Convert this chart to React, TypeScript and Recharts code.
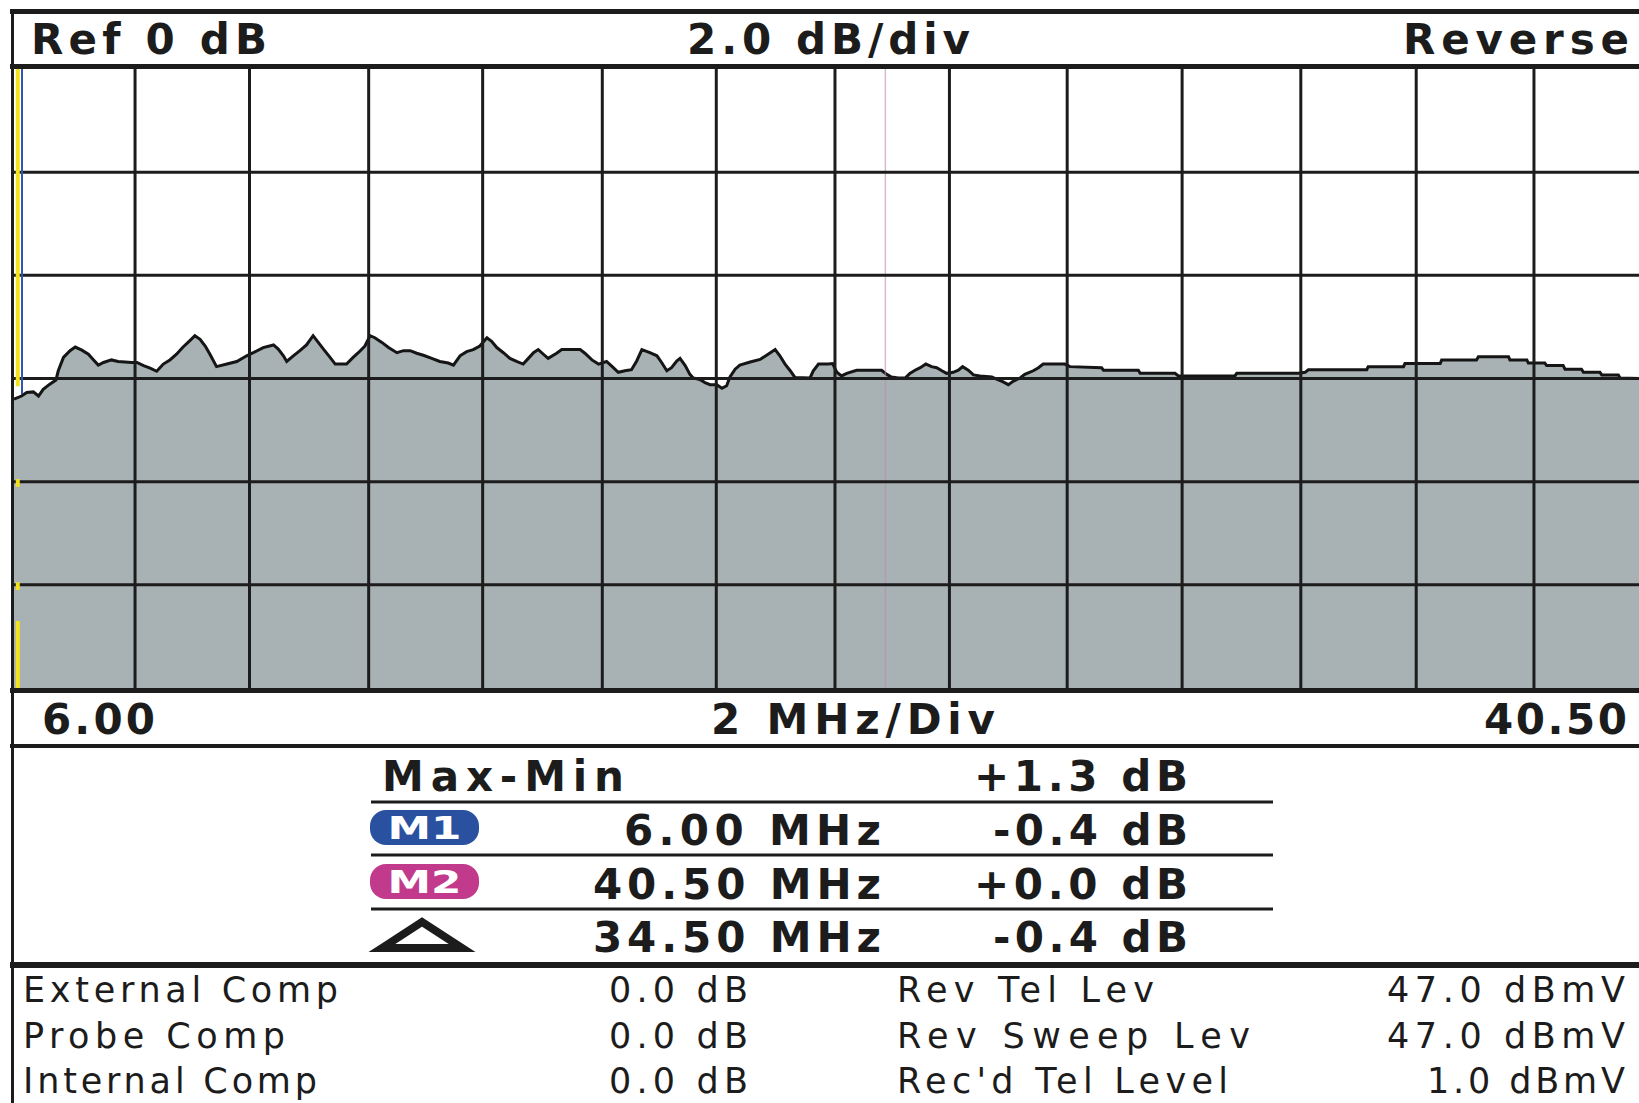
import React from 'react';
import { AreaChart, Area, XAxis, YAxis, ReferenceLine } from 'recharts';

// Sweep trace: [frequency MHz, level dB]
const trace: [number, number][] = [
  [6.00, -0.40], [6.16, -0.34], [6.27, -0.27], [6.41, -0.26], [6.52, -0.34], [6.62, -0.21], [6.76, -0.11],
  [6.89, -0.03], [6.94, 0.15], [7.05, 0.41], [7.19, 0.54], [7.30, 0.61], [7.44, 0.55], [7.58, 0.47],
  [7.68, 0.37], [7.79, 0.26], [7.90, 0.31], [8.07, 0.36], [8.21, 0.33], [8.50, 0.31], [8.61, 0.31],
  [8.75, 0.25], [8.89, 0.20], [9.03, 0.14], [9.17, 0.28], [9.31, 0.36], [9.45, 0.47], [9.59, 0.61],
  [9.74, 0.74], [9.84, 0.83], [9.95, 0.76], [10.06, 0.63], [10.16, 0.47], [10.30, 0.23], [10.52, 0.28],
  [10.73, 0.33], [10.94, 0.44], [11.08, 0.50], [11.29, 0.60], [11.51, 0.65], [11.61, 0.57], [11.72, 0.44],
  [11.79, 0.33], [11.93, 0.44], [12.07, 0.54], [12.21, 0.65], [12.35, 0.83], [12.46, 0.70], [12.57, 0.57],
  [12.71, 0.41], [12.82, 0.28], [13.06, 0.28], [13.20, 0.41], [13.31, 0.50], [13.45, 0.63], [13.56, 0.83],
  [13.66, 0.79], [13.81, 0.70], [13.95, 0.60], [14.13, 0.50], [14.27, 0.54], [14.41, 0.54], [14.55, 0.49],
  [14.69, 0.45], [14.87, 0.39], [15.04, 0.33], [15.22, 0.30], [15.33, 0.26], [15.47, 0.44], [15.61, 0.52],
  [15.75, 0.56], [15.89, 0.63], [16.04, 0.79], [16.14, 0.72], [16.25, 0.60], [16.39, 0.50], [16.53, 0.39],
  [16.67, 0.33], [16.81, 0.28], [16.92, 0.39], [17.03, 0.50], [17.13, 0.56], [17.24, 0.47], [17.34, 0.39],
  [17.52, 0.49], [17.63, 0.56], [18.02, 0.56], [18.12, 0.49], [18.27, 0.36], [18.41, 0.28], [18.58, 0.33],
  [18.69, 0.24], [18.83, 0.12], [18.97, 0.15], [19.11, 0.17], [19.22, 0.34], [19.33, 0.56], [19.50, 0.50],
  [19.65, 0.44], [19.75, 0.31], [19.86, 0.15], [19.96, 0.21], [20.07, 0.34], [20.14, 0.39], [20.25, 0.25],
  [20.35, 0.08], [20.42, 0.01], [20.56, -0.02], [20.67, -0.08], [20.78, -0.12], [20.92, -0.12], [21.03, -0.19],
  [21.13, -0.14], [21.20, 0.03], [21.31, 0.18], [21.41, 0.26], [21.63, 0.32], [21.84, 0.37], [22.01, 0.47],
  [22.16, 0.56], [22.26, 0.44], [22.37, 0.28], [22.48, 0.15], [22.58, 0.02], [22.90, 0.01], [22.97, 0.15],
  [23.08, 0.28], [23.29, 0.28], [23.38, 0.29], [23.47, 0.12], [23.57, 0.05], [23.68, 0.10], [23.89, 0.16],
  [24.42, 0.16], [24.53, 0.08], [24.63, 0.03], [24.77, 0.01], [24.92, 0.01], [25.02, 0.10], [25.13, 0.16],
  [25.24, 0.21], [25.36, 0.28], [25.48, 0.23], [25.59, 0.21], [25.70, 0.15], [25.80, 0.10], [25.94, 0.12],
  [26.05, 0.16], [26.14, 0.23], [26.26, 0.16], [26.37, 0.07], [26.51, 0.05], [26.76, 0.03], [26.86, -0.01],
  [26.99, -0.06], [27.11, -0.12], [27.22, -0.05], [27.36, 0.01], [27.46, 0.08], [27.64, 0.15], [27.75, 0.21],
  [27.85, 0.28], [28.31, 0.28], [28.42, 0.23], [29.09, 0.21], [29.13, 0.16], [29.87, 0.16], [29.91, 0.10],
  [30.65, 0.10], [30.72, 0.05], [31.92, 0.05], [31.96, 0.10], [33.27, 0.10], [33.41, 0.12], [33.48, 0.17],
  [34.72, 0.17], [34.75, 0.23], [35.50, 0.23], [35.53, 0.29], [36.28, 0.29], [36.31, 0.36], [37.05, 0.36],
  [37.09, 0.42], [37.73, 0.42], [37.76, 0.36], [38.12, 0.36], [38.15, 0.30], [38.50, 0.30], [38.54, 0.25],
  [38.89, 0.25], [38.93, 0.18], [39.28, 0.18], [39.32, 0.12], [39.67, 0.12], [39.71, 0.07], [40.06, 0.07],
  [40.10, 0.01], [40.50, 0.00],
];

const freqDomain: [number, number] = [6.0, 40.5];
const dbDomain: [number, number] = [-6, 6];
const gridFreqs = [8.57, 11.0, 13.53, 15.95, 18.49, 20.91, 23.43, 25.86, 28.36, 30.8, 33.32, 35.77, 38.27];
const gridDb = [-4, -2, 0, 2, 4];

const headerTexts = ['Ref 0 dB', '2.0 dB/div', 'Reverse'];
const axisTexts = ['6.00', '2 MHz/Div', '40.50'];
const maxMin = ['Max-Min', '+1.3 dB'];
const markerLabels = ['M1', 'M2'];
const markerFreqs = ['6.00 MHz', '40.50 MHz', '34.50 MHz'];
const markerLevels = ['-0.4 dB', '+0.0 dB', '-0.4 dB'];
const compNames = ['External Comp', 'Probe Comp', 'Internal Comp'];
const compValues = ['0.0 dB', '0.0 dB', '0.0 dB'];
const levelNames = ['Rev Tel Lev', 'Rev Sweep Lev', "Rec'd Tel Level"];
const levelValues = ['47.0 dBmV', '47.0 dBmV', '1.0 dBmV'];

const data = trace.map(([f, db]) => ({ f, db }));

const INK = '#1c1c1c';
const BOLD: React.CSSProperties = {
  fontFamily: '"DejaVu Sans", "Liberation Sans", sans-serif',
  fontWeight: 700,
  fontSize: 42,
  fill: INK,
};
const THIN: React.CSSProperties = {
  fontFamily: '"DejaVu Sans", "Liberation Sans", sans-serif',
  fontWeight: 400,
  fontSize: 35,
  fill: INK,
};

function T({ x, y, len, style, children }: { x: number; y: number; len: number; style: React.CSSProperties; children: string }) {
  return (
    <text x={x} y={y} textLength={len} lengthAdjust="spacing" style={style}>
      {children}
    </text>
  );
}

export default function App() {
  const rowsY = [845, 899, 952];
  const freqX = [624, 593, 593];
  const freqLen = [257, 288, 288];
  const lvlX = [993, 974, 993];
  const lvlLen = [195, 214, 195];
  const badgeColors = ['#2a51a0', '#c23a8c'];
  const compY = [1002, 1048, 1093];
  const compNameLen = [315, 262, 294];
  const levelNameLen = [257, 353, 331];
  const levelValX = [1387, 1387, 1427];
  const levelValLen = [238, 238, 198];

  return (
    <div style={{ position: 'absolute', left: 0, top: 0, width: 1639, height: 1103, background: '#fff', overflow: 'hidden' }}>
      <div style={{ position: 'absolute', left: 14, top: 69 }}>
        <AreaChart width={1625} height={619} data={data} margin={{ top: 0, right: 0, bottom: 0, left: 0 }}>
          <XAxis dataKey="f" type="number" domain={freqDomain} hide allowDataOverflow />
          <YAxis type="number" domain={dbDomain} hide allowDataOverflow />
          <Area
            type="linear"
            dataKey="db"
            stroke="#151515"
            strokeWidth={3}
            fill="#a8b1b3"
            fillOpacity={1}
            baseValue="dataMin"
            dot={false}
            activeDot={false}
            isAnimationActive={false}
          />
          <ReferenceLine x={24.5} stroke="#b690b0" strokeWidth={1.5} strokeOpacity={0.6} />
          {gridFreqs.map((f) => (
            <ReferenceLine key={'vx' + f} x={f} stroke={INK} strokeWidth={3} />
          ))}
          {gridDb.map((d) => (
            <ReferenceLine key={'hy' + d} y={d} stroke={INK} strokeWidth={3} />
          ))}
          <ReferenceLine segment={[{ x: 6.08, y: 6 }, { x: 6.08, y: -0.15 }]} stroke="#f2e21c" strokeWidth={4} />
          <ReferenceLine segment={[{ x: 6.08, y: -1.95 }, { x: 6.08, y: -2.1 }]} stroke="#f2e21c" strokeWidth={4} />
          <ReferenceLine segment={[{ x: 6.08, y: -3.95 }, { x: 6.08, y: -4.1 }]} stroke="#f2e21c" strokeWidth={4} />
          <ReferenceLine segment={[{ x: 6.08, y: -4.7 }, { x: 6.08, y: -6 }]} stroke="#f2e21c" strokeWidth={4} />
          <ReferenceLine segment={[{ x: 6.17, y: 6 }, { x: 6.17, y: -0.3 }]} stroke="#3256b0" strokeWidth={2} />
        </AreaChart>
      </div>

      <svg width={1639} height={1103} style={{ position: 'absolute', left: 0, top: 0, pointerEvents: 'none' }}>
        {/* frame lines */}
        <line x1={10} x2={1639} y1={11.5} y2={11.5} stroke={INK} strokeWidth={5} />
        <line x1={12.5} x2={12.5} y1={9} y2={1103} stroke={INK} strokeWidth={3} />
        <line x1={10} x2={1639} y1={66.5} y2={66.5} stroke={INK} strokeWidth={5} />
        <line x1={10} x2={1639} y1={690.5} y2={690.5} stroke={INK} strokeWidth={5} />
        <line x1={10} x2={1639} y1={746} y2={746} stroke={INK} strokeWidth={4} />
        <line x1={10} x2={1639} y1={965} y2={965} stroke={INK} strokeWidth={6} />

        {/* header */}
        <T x={31} y={54} len={236} style={BOLD}>{headerTexts[0]}</T>
        <T x={687} y={54} len={283} style={BOLD}>{headerTexts[1]}</T>
        <T x={1403} y={54} len={226} style={BOLD}>{headerTexts[2]}</T>

        {/* axis band */}
        <T x={42} y={734} len={113} style={BOLD}>{axisTexts[0]}</T>
        <T x={711} y={734} len={284} style={BOLD}>{axisTexts[1]}</T>
        <T x={1484} y={734} len={143} style={BOLD}>{axisTexts[2]}</T>

        {/* marker table */}
        <T x={382} y={791} len={242} style={BOLD}>{maxMin[0]}</T>
        <T x={974} y={791} len={214} style={BOLD}>{maxMin[1]}</T>
        {[802, 855, 909].map((y) => (
          <line key={'sep' + y} x1={371} x2={1273} y1={y} y2={y} stroke={INK} strokeWidth={3} />
        ))}
        {markerLabels.map((m, i) => (
          <g key={m}>
            <rect x={370} y={rowsY[i] - 35} width={109} height={35} rx={16} ry={16} fill={badgeColors[i]} />
            <text
              x={424.5}
              y={rowsY[i] - 6}
              textAnchor="middle"
              textLength={74}
              lengthAdjust="spacingAndGlyphs"
              style={{ fontFamily: '"DejaVu Sans", sans-serif', fontWeight: 700, fontSize: 32, fill: '#fff' }}
            >
              {m}
            </text>
          </g>
        ))}
        <polygon points="382,948 422,922 462,948" fill="#fff" stroke={INK} strokeWidth={8} strokeLinejoin="miter" />
        {markerFreqs.map((s, i) => (
          <T key={'mf' + i} x={freqX[i]} y={rowsY[i]} len={freqLen[i]} style={BOLD}>{s}</T>
        ))}
        {markerLevels.map((s, i) => (
          <T key={'ml' + i} x={lvlX[i]} y={rowsY[i]} len={lvlLen[i]} style={BOLD}>{s}</T>
        ))}

        {/* compensation / level rows */}
        {compNames.map((s, i) => (
          <g key={'c' + i}>
            <T x={23} y={compY[i]} len={compNameLen[i]} style={THIN}>{s}</T>
            <T x={609} y={compY[i]} len={139} style={THIN}>{compValues[i]}</T>
            <T x={897} y={compY[i]} len={levelNameLen[i]} style={THIN}>{levelNames[i]}</T>
            <T x={levelValX[i]} y={compY[i]} len={levelValLen[i]} style={THIN}>{levelValues[i]}</T>
          </g>
        ))}
      </svg>
    </div>
  );
}
